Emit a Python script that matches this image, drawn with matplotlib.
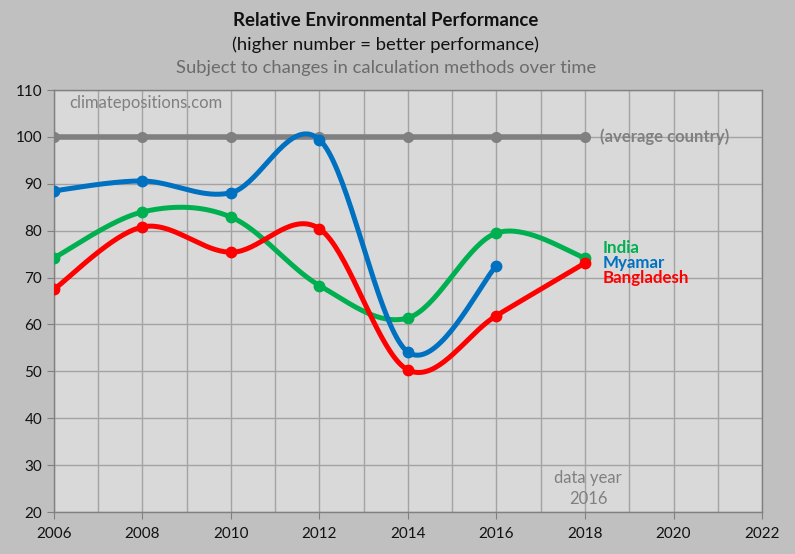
import numpy as np
import matplotlib.pyplot as plt

plt.rcParams['font.family'] = ['Lato', 'DejaVu Sans']

years = [2006, 2008, 2010, 2012, 2014, 2016, 2018]
india = [74.2, 84.0, 82.9, 68.3, 61.4, 79.5, 74.2]
myamar = [88.5, 90.6, 88.1, 99.4, 54.1, 72.5]
bangladesh = [67.5, 80.8, 75.4, 80.4, 50.3, 61.9, 73.1]
average = [100, 100, 100, 100, 100, 100, 100]

BG = '#c0c0c0'
PLOT_BG = '#d9d9d9'
GRID = '#a3a3a3'


def smooth(xs, ys, n=40):
    # Excel-like smoothed line: Catmull-Rom as cubic Bezier segments
    xs = np.asarray(xs, float)
    ys = np.asarray(ys, float)
    px = np.concatenate([[xs[0]], xs, [xs[-1]]])
    py = np.concatenate([[ys[0]], ys, [ys[-1]]])
    out_x, out_y = [], []
    t = np.linspace(0, 1, n)
    for i in range(1, len(px) - 2):
        p0 = np.array([px[i], py[i]])
        p3 = np.array([px[i + 1], py[i + 1]])
        c1 = p0 + (p3 - np.array([px[i - 1], py[i - 1]])) / 6
        c2 = p3 - (np.array([px[i + 2], py[i + 2]]) - p0) / 6
        b = ((1 - t) ** 3)[:, None] * p0 + (3 * (1 - t) ** 2 * t)[:, None] * c1 \
            + (3 * (1 - t) * t ** 2)[:, None] * c2 + (t ** 3)[:, None] * p3
        out_x.extend(b[:, 0])
        out_y.extend(b[:, 1])
    return out_x, out_y


fig = plt.figure(figsize=(7.95, 5.54), dpi=100, facecolor=BG)
ax = fig.add_axes([0.0679, 0.0758, 0.8906, 0.7617])
ax.set_facecolor(PLOT_BG)

ax.set_xlim(2006, 2022)
ax.set_ylim(20, 110)
ax.set_xticks(range(2006, 2023, 2))
ax.set_xticks(range(2007, 2022, 2), minor=True)
ax.set_yticks(range(20, 111, 10))
ax.grid(True, which='both', color=GRID, linewidth=1)
ax.set_axisbelow(True)
ax.tick_params(axis='x', which='minor', length=0)
ax.tick_params(axis='both', which='major', length=5, color='#808080',
               labelsize=11, labelcolor='#111111')
ax.tick_params(axis='x', pad=6)
for s in ax.spines.values():
    s.set_color('#808080')
    s.set_linewidth(1)

ax.plot(years, average, color='#808080', lw=4, marker='o', ms=7, zorder=3)

series = [(india, '#00b050'), (bangladesh, '#ff0000'), (myamar, '#0070c0')]
for vals, col in series:
    yrs = years[:len(vals)]
    sx, sy = smooth(yrs, vals)
    ax.plot(sx, sy, color=col, lw=3.6, solid_capstyle='round', zorder=4)
    ax.plot(yrs, vals, 'o', color=col, ms=7.5, zorder=5)

ax.text(2006.34, 107.2, 'climatepositions.com', color='#7f7f7f', fontsize=12,
        ha='left', va='center')
ax.text(2018.34, 100, '(average country)', color='#808080', fontsize=12.1,
        fontweight='bold', va='center')
ax.text(2018.4, 76.3, 'India', color='#00b050', fontsize=12.2, fontweight='bold', va='center')
ax.text(2018.4, 73.1, 'Myamar', color='#0070c0', fontsize=12.2, fontweight='bold', va='center')
ax.text(2018.4, 69.9, 'Bangladesh', color='#ff0000', fontsize=12.2, fontweight='bold', va='center')
ax.text(2018.07, 27.3, 'data year', color='#808080', fontsize=12, ha='center', va='center')
ax.text(2018.07, 22.8, '2016', color='#808080', fontsize=12, ha='center', va='center')

fig.text(0.4855, 0.963, 'Relative Environmental Performance', ha='center', va='center',
         fontsize=13.4, fontweight='bold', color='#111111')
fig.text(0.4855, 0.919, '(higher number = better performance)', ha='center', va='center',
         fontsize=13.3, color='#111111')
fig.text(0.4855, 0.877, 'Subject to changes in calculation methods over time', ha='center',
         va='center', fontsize=13.2, color='#6b6b6b')

fig.savefig('out.png', dpi=100, facecolor=BG)
